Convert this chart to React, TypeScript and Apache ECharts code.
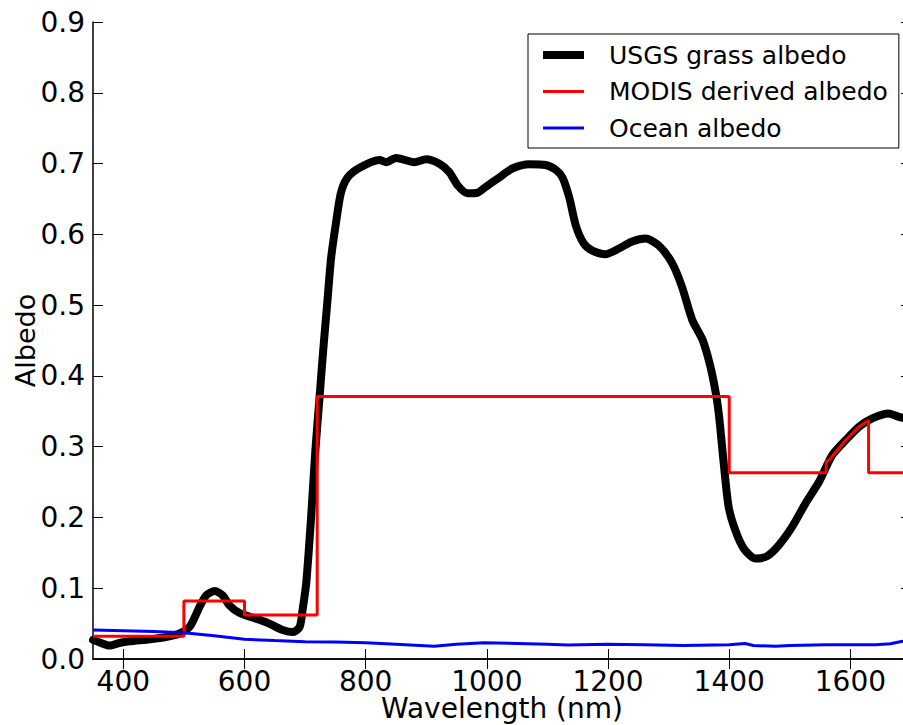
import React, { useEffect, useRef } from "react";
import * as echarts from "echarts";

// ---- data ----
const xTicks = [400, 600, 800, 1000, 1200, 1400, 1600];

const grassWl = [
  350, 362, 377, 395, 410, 444, 470, 493, 510, 526, 537, 551, 564, 575, 592, 619, 641, 663, 680, 691,
  696, 702, 710, 717, 724, 730, 737, 743, 751, 759, 770, 790, 823, 834, 850, 880, 900, 921, 938, 952,
  968, 985, 998, 1020, 1042, 1070, 1097, 1114, 1125, 1136, 1147, 1160, 1174, 1196, 1218, 1240, 1262,
  1284, 1306, 1322, 1339, 1356, 1369, 1378, 1383, 1391, 1399, 1410, 1424, 1443, 1462, 1482, 1504,
  1526, 1548, 1570, 1592, 1614, 1636, 1663, 1680, 1700,
];
const grassAlbedo = [
  0.027, 0.023, 0.019, 0.023, 0.025, 0.028, 0.031, 0.036, 0.046, 0.074, 0.09, 0.096, 0.09, 0.076,
  0.065, 0.057, 0.05, 0.041, 0.038, 0.045, 0.07, 0.108, 0.201, 0.295, 0.371, 0.437, 0.507, 0.567,
  0.616, 0.658, 0.68, 0.694, 0.705, 0.702, 0.708, 0.702, 0.706, 0.7, 0.688, 0.669, 0.658, 0.659,
  0.667, 0.68, 0.693, 0.699, 0.698, 0.691, 0.68, 0.652, 0.612, 0.587, 0.577, 0.572, 0.58, 0.59,
  0.594, 0.584, 0.559, 0.526, 0.479, 0.451, 0.413, 0.375, 0.345, 0.276, 0.215, 0.182, 0.156, 0.142,
  0.145, 0.161, 0.187, 0.22, 0.25, 0.288, 0.309, 0.328, 0.34, 0.347, 0.342, 0.338,
];

const modisWl = [350, 500, 500, 600, 600, 720, 720, 1400, 1400, 1560, 1560, 1566, 1592, 1614, 1630, 1630, 1700];
const modisAlbedo = [
  0.032, 0.032, 0.082, 0.082, 0.062, 0.062, 0.371, 0.371, 0.263, 0.263, 0.279, 0.282, 0.309, 0.328,
  0.337, 0.263, 0.263,
];

const oceanWl = [
  350, 400, 450, 500, 550, 600, 650, 700, 750, 800, 850, 913, 950, 995, 1050, 1100, 1134, 1198, 1260,
  1325, 1400, 1426, 1440, 1477, 1500, 1560, 1642, 1666, 1686, 1700,
];
const oceanAlbedo = [
  0.041, 0.04, 0.039, 0.037, 0.033, 0.028, 0.026, 0.0245, 0.024, 0.023, 0.021, 0.018, 0.021, 0.023,
  0.022, 0.021, 0.0198, 0.021, 0.02, 0.019, 0.02, 0.022, 0.019, 0.018, 0.019, 0.02, 0.02, 0.0215,
  0.025, 0.028,
];

const names = ["USGS grass albedo", "MODIS derived albedo", "Ocean albedo"];

const zip = (xs: number[], ys: number[]) => xs.map((x, i) => [x, ys[i]]);

const FONT = "DejaVu Sans";

export default function App() {
  const ref = useRef<HTMLDivElement>(null);

  useEffect(() => {
    if (!ref.current) return;
    const chart = echarts.init(ref.current, null, { renderer: "svg" });
    const axisLine = { show: true, lineStyle: { color: "#000", width: 1.5 } };
    const axisTickX = { show: true, inside: true, length: 10, customValues: xTicks, lineStyle: { color: "#000", width: 1 } };
    const axisTickY = { show: true, inside: true, length: 10, lineStyle: { color: "#000", width: 1 } };
    chart.setOption({
      animation: false,
      backgroundColor: "#fff",
      textStyle: { fontFamily: FONT },
      grid: { left: 93, top: 22, right: 2, bottom: 66, containLabel: false, outerBoundsMode: "none" },
      legend: {
        orient: "vertical",
        left: 528,
        top: 34,
        itemWidth: 41,
        itemHeight: 8,
        itemGap: 9.5,
        padding: [7.5, 11, 6.5, 15],
        borderColor: "#000",
        borderWidth: 1,
        borderRadius: 0,
        backgroundColor: "#fff",
        selectedMode: false,
        textStyle: { fontSize: 25, color: "#000", fontFamily: FONT, lineHeight: 27, padding: [0, 0, 0, 20] },
        data: [
          { name: names[0], icon: "path://M0,0H41V8H0Z" },
          { name: names[1], icon: "path://M0,0M0,8M0,2.5H41V5.5H0Z" },
          { name: names[2], icon: "path://M0,0M0,8M0,2.5H41V5.5H0Z" },
        ],
      },
      xAxis: [
        {
          type: "value",
          position: "bottom",
          min: 350,
          max: 1700,
          axisLine,
          axisTick: axisTickX,
          splitLine: { show: false },
          axisLabel: {
            customValues: xTicks,
            fontSize: 28,
            lineHeight: 26,
            color: "#000",
            margin: 9,
            fontFamily: FONT,
            formatter: (v: number) => String(v),
          },
          name: "Wavelength (nm)",
          nameLocation: "middle",
          nameGap: 36,
          nameMoveOverlap: false,
          nameTextStyle: { fontSize: 28, lineHeight: 26, color: "#000", fontFamily: FONT },
        },
        {
          type: "value",
          position: "top",
          min: 350,
          max: 1700,
          axisLine,
          axisTick: axisTickX,
          splitLine: { show: false },
          axisLabel: { show: false, customValues: xTicks },
        },
      ],
      yAxis: [
        {
          type: "value",
          position: "left",
          min: 0,
          max: 0.9,
          interval: 0.1,
          axisLine,
          axisTick: axisTickY,
          splitLine: { show: false },
          axisLabel: {
            fontSize: 28,
            color: "#000",
            margin: 8,
            fontFamily: FONT,
            formatter: (v: number) => v.toFixed(1),
          },
          name: "Albedo",
          nameLocation: "middle",
          nameRotate: 90,
          nameGap: 54,
          nameMoveOverlap: false,
          nameTextStyle: { fontSize: 27, color: "#000", fontFamily: FONT },
        },
        {
          type: "value",
          position: "right",
          min: 0,
          max: 0.9,
          interval: 0.1,
          axisLine,
          axisTick: axisTickY,
          splitLine: { show: false },
          axisLabel: { show: false },
        },
      ],
      series: [
        {
          name: names[0],
          type: "line",
          data: zip(grassWl, grassAlbedo),
          showSymbol: false,
          symbol: "none",
          smooth: 0.25,
          color: "#000",
          lineStyle: { color: "#000", width: 8, cap: "round", join: "round" },
          z: 2,
        },
        {
          name: names[1],
          type: "line",
          data: zip(modisWl, modisAlbedo),
          showSymbol: false,
          symbol: "none",
          color: "#ff0000",
          lineStyle: { color: "#ff0000", width: 3 },
          z: 3,
        },
        {
          name: names[2],
          type: "line",
          data: zip(oceanWl, oceanAlbedo),
          showSymbol: false,
          symbol: "none",
          color: "#0000ff",
          lineStyle: { color: "#0000ff", width: 3 },
          z: 4,
        },
      ],
    });
    return () => chart.dispose();
  }, []);

  return (
    <div
      style={{
        position: "fixed",
        left: 0,
        top: 0,
        width: 903,
        height: 725,
        overflow: "hidden",
        background: "#fff",
      }}
    >
      <div ref={ref} style={{ width: 913, height: 725 }} />
    </div>
  );
}
